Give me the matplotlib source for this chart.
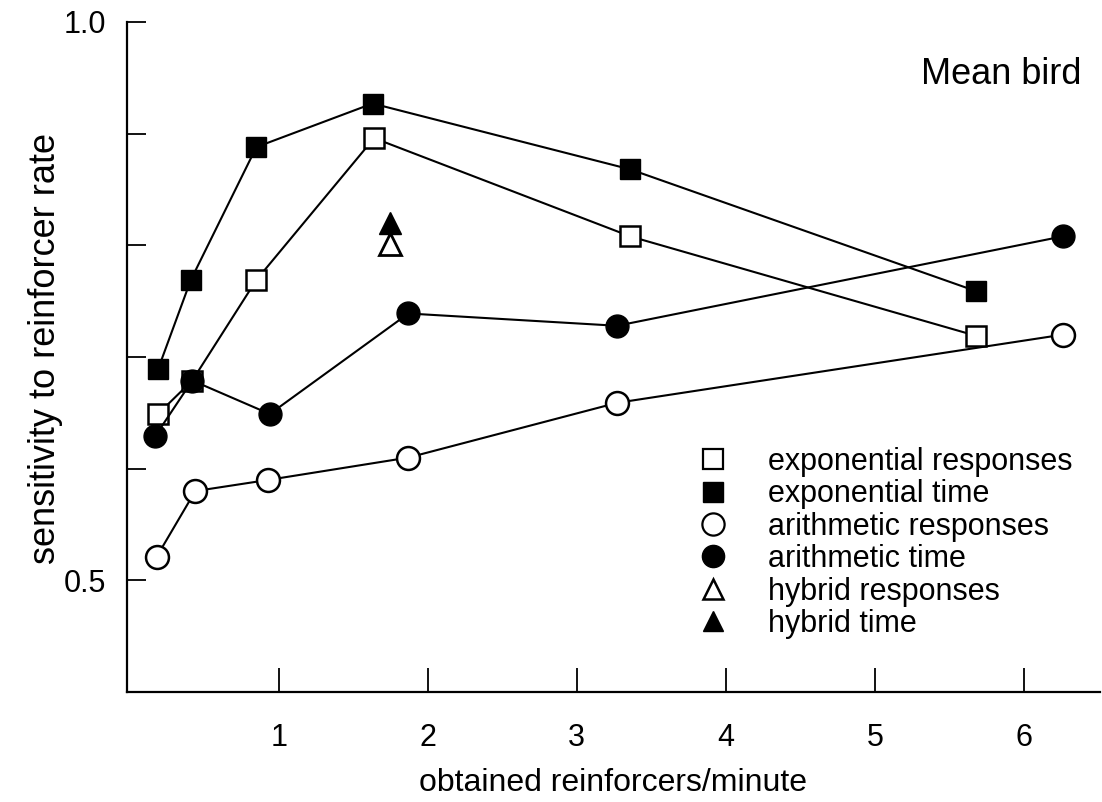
import matplotlib
matplotlib.use("Agg")
import matplotlib.pyplot as plt
from matplotlib.lines import Line2D

plt.rcParams['font.family'] = ['Liberation Sans', 'DejaVu Sans']

# obtained reinforcers/minute and sensitivity values
exp_resp_x = [0.19, 0.42, 0.85, 1.64, 3.36, 5.68]
exp_resp_y = [0.649, 0.679, 0.769, 0.896, 0.808, 0.719]

exp_time_x = [0.19, 0.41, 0.85, 1.63, 3.36, 5.68]
exp_time_y = [0.689, 0.769, 0.888, 0.927, 0.868, 0.759]

ari_resp_x = [0.18, 0.44, 0.93, 1.87, 3.27, 6.26]
ari_resp_y = [0.521, 0.580, 0.590, 0.610, 0.659, 0.720]

ari_time_x = [0.17, 0.42, 0.94, 1.87, 3.27, 6.26]
ari_time_y = [0.629, 0.679, 0.649, 0.739, 0.728, 0.808]

hyb_resp_x = [1.75]
hyb_resp_y = [0.801]
hyb_time_x = [1.75]
hyb_time_y = [0.820]

labels = ['exponential responses', 'exponential time', 'arithmetic responses',
          'arithmetic time', 'hybrid responses', 'hybrid time']

fig = plt.figure(figsize=(11.02, 8.02), dpi=100)
ax = fig.add_axes([0.115, 0.137, 0.883, 0.8356])

lw = 1.5
sq = 14.5
ci = 16.5
tri = 16
ax.plot(ari_resp_x, ari_resp_y, '-o', color='black', lw=lw, ms=ci, mfc='white', mec='black', mew=1.8)
ax.plot(exp_resp_x, exp_resp_y, '-s', color='black', lw=lw, ms=sq, mfc='white', mec='black', mew=1.8)
ax.plot(ari_time_x, ari_time_y, '-o', color='black', lw=lw, ms=ci, mfc='black', mec='black')
ax.plot(exp_time_x, exp_time_y, '-s', color='black', lw=lw, ms=sq, mfc='black', mec='black')
ax.plot(hyb_resp_x, hyb_resp_y, '^', ms=tri, mfc='white', mec='black', mew=2)
ax.plot(hyb_time_x, hyb_time_y, '^', ms=tri, mfc='black', mec='black')

ax.set_xlim(-0.02, 6.51)
ax.set_ylim(0.4, 1.0)
ax.set_xticks([1, 2, 3, 4, 5, 6])
ax.set_yticks([0.5, 0.6, 0.7, 0.8, 0.9, 1.0])
ax.set_yticklabels(['0.5', '', '', '', '', '1.0'])
ax.tick_params(direction='in', length=14, width=1.3, labelsize=22)
ax.tick_params(axis='y', pad=15)
ax.tick_params(axis='x', length=17, pad=22)
for s in ['top', 'right']:
    ax.spines[s].set_visible(False)
for s in ['left', 'bottom']:
    ax.spines[s].set_linewidth(1.6)

ax.set_xlabel('obtained reinforcers/minute', fontsize=23, labelpad=11)
ax.set_ylabel('sensitivity to reinforcer rate', fontsize=26)
ax.yaxis.set_label_coords(-0.066, 0.513)

ax.text(0.981, 0.921, 'Mean bird', transform=ax.transAxes, fontsize=26,
        ha='right', va='center')

handles = [
    Line2D([], [], ls='', marker='s', ms=14, mfc='white', mec='black', mew=1.6),
    Line2D([], [], ls='', marker='s', ms=14, mfc='black', mec='black'),
    Line2D([], [], ls='', marker='o', ms=16, mfc='white', mec='black', mew=1.6),
    Line2D([], [], ls='', marker='o', ms=16, mfc='black', mec='black'),
    Line2D([], [], ls='', marker='^', ms=15, mfc='white', mec='black', mew=1.8),
    Line2D([], [], ls='', marker='^', ms=15, mfc='black', mec='black'),
]
ax.legend(handles, labels, loc='upper left', bbox_to_anchor=(0.587, 0.366),
          frameon=False, fontsize=22, handlelength=1.0, handletextpad=1.3,
          labelspacing=0.08, borderpad=0, borderaxespad=0)

fig.savefig('out.png', dpi=100)
